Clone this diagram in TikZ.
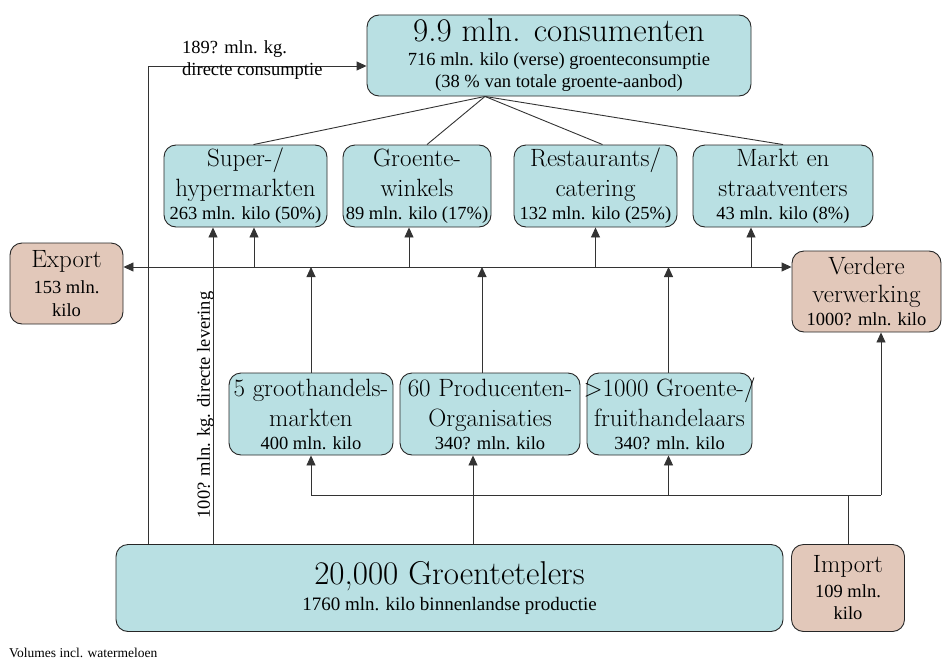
\documentclass[tikz,border=0pt]{standalone}
\usepackage{fontspec}
\setmainfont{Liberation Serif}
\newfontfamily\titlefont{Latin Modern Roman}
\usetikzlibrary{arrows.meta,calc}
\definecolor{boxblue}{HTML}{B9E0E3}
\definecolor{boxtan}{HTML}{E2C8BA}
\newcommand\fsT{\titlefont\fontsize{25}{30}\selectfont}
\newcommand\fsS{\rmfamily\fontsize{18.5}{23}\selectfont}
\newcommand\fsB{\titlefont\fontsize{33}{36}\selectfont}
\begin{document}
\begin{tikzpicture}[x=1pt,y=-1pt,
  boxbase/.style={draw=black!85, line width=0.9pt, rounded corners=12pt, align=center, inner sep=0pt},
  bluebox/.style={boxbase, fill=boxblue},
  tanbox/.style={boxbase, fill=boxtan},
  conn/.style={draw=black!80, line width=0.9pt},
  arr/.style={conn, -{Triangle[length=10pt,width=9pt]}},
  dbl/.style={conn, {Triangle[length=10pt,width=9pt]}-{Triangle[length=10pt,width=9pt]}},
  lab/.style={inner sep=0pt, font=\fontsize{18.5}{22}\selectfont}
]
\useasboundingbox (0,0) rectangle (944,661);

% top consumer box
\node[bluebox, minimum width=384pt, minimum height=81pt, font=\fontsize{18.5}{22}\selectfont] (cons) at (559,55.5)
  {{\fsB 9.9 mln. consumenten}\\[2pt]716 mln. kilo (verse) groenteconsumptie\\(38 \% van totale groente-aanbod)};

% retail row
\node[bluebox, minimum width=163pt, minimum height=82pt, font=\fsT] (super) at (245.5,186)
  {Super-/\\hypermarkten\\[-7pt]{\fsS 263 mln. kilo (50\%)}};
\node[bluebox, minimum width=148pt, minimum height=82pt, font=\fsT] (winkel) at (417,186)
  {Groente-\\winkels\\[-7pt]{\fsS 89 mln. kilo (17\%)}};
\node[bluebox, minimum width=163pt, minimum height=82pt, font=\fsT] (rest) at (595.5,186)
  {Restaurants/\\catering\\[-7pt]{\fsS 132 mln. kilo (25\%)}};
\node[bluebox, minimum width=180pt, minimum height=82pt, font=\fsT] (markt) at (783,186)
  {Markt en\\straatventers\\[-7pt]{\fsS 43 mln. kilo (8\%)}};

% side boxes
\node[tanbox, minimum width=113pt, minimum height=81pt, font=\fsS] (export) at (66.5,283.5)
  {{\fsT Export}\\[3pt]153 mln.\\kilo};
\node[tanbox, minimum width=149pt, minimum height=81pt, font=\titlefont\fontsize{25}{28}\selectfont] (verder) at (866.5,291.5)
  {Verdere\\verwerking\\[-5pt]{\fsS 1000? mln. kilo}};

% middle row
\node[bluebox, minimum width=164pt, minimum height=82pt, font=\fsT] (gh) at (311,414)
  {5 groothandels-\\markten\\[-7pt]{\fsS 400 mln. kilo}};
\node[bluebox, minimum width=180pt, minimum height=82pt, font=\fsT] (po) at (490,414)
  {60 Producenten-\\Organisaties\\[-7pt]{\fsS 340? mln. kilo}};
\node[bluebox, minimum width=165pt, minimum height=82pt, font=\fsT] (fh) at (669.5,414)
  {\makebox[0pt]{>1000 Groente-/}\\fruithandelaars\\[-7pt]{\fsS 340? mln. kilo}};

% bottom
\node[bluebox, minimum width=667pt, minimum height=87pt, font=\fontsize{19}{24}\selectfont] (telers) at (449.5,588)
  {{\fsB 20,000 Groentetelers}\\[2pt]1760 mln. kilo binnenlandse productie};
\node[tanbox, minimum width=113pt, minimum height=87pt, font=\fontsize{18.5}{22}\selectfont] (import) at (848,588)
  {{\fsT Import}\\[3pt]109 mln.\\kilo};

% helper coordinates
\coordinate (hl) at (0,267);
\coordinate (bl) at (0,495);
\coordinate (dc) at (148,66);
\coordinate (dl) at (213,0);
\coordinate (ap) at (485,0);
\coordinate (b473) at (473,0);
\coordinate (b881) at (881,0);
\coordinate (m482) at (482,0);

% consumer fan-out
\draw[conn] (cons.south -| ap) -- ($(super.north)+(8,0)$);
\draw[conn] (cons.south -| ap) -- ($(winkel.north)+(10,0)$);
\draw[conn] (cons.south -| ap) -- ($(rest.north)+(7,0)$);
\draw[conn] (cons.south -| ap) -- (markt.north);

% main distribution line
\draw[dbl] (export.east |- hl) -- (verder.west |- hl);
\draw[arr] ($(super.south |- hl)+(8.5,0)$) -- ($(super.south)+(8.5,0)$);
\draw[arr] ($(winkel.south |- hl)+(-8,0)$) -- ($(winkel.south)+(-8,0)$);
\draw[arr] (rest.south |- hl) -- (rest.south);
\draw[arr] ($(markt.south |- hl)+(-32,0)$) -- ($(markt.south)+(-32,0)$);

% middle row up to line
\draw[arr] (gh.north) -- (gh.north |- hl);
\draw[arr] (po.north -| m482) -- (m482 |- hl);
\draw[arr] ($(fh.north)+(-1,0)$) -- ($(fh.north |- hl)+(-1,0)$);

% direct flows from growers
\draw[arr] (telers.north -| dc) -- (dc) -- (cons.west |- dc);
\draw[arr] (telers.north -| dl) -- (super.south -| dl);

% bottom distribution
\draw[arr] (telers.north -| b473) -- (po.south -| b473);
\draw[conn] (gh.south |- bl) -- (b881 |- bl);
\draw[arr] (gh.south |- bl) -- (gh.south);
\draw[arr] ($(fh.south |- bl)+(-1,0)$) -- ($(fh.south)+(-1,0)$);
\draw[arr] (b881 |- bl) -- (verder.south -| b881);
\draw[conn] (import.north) -- (import.north |- bl);

% labels
\node[lab, anchor=north west, align=left] (l189) at (182,40.5) {189? mln. kg.\\directe consumptie};
\node[lab, rotate=90] (l100) at (205.5,405) {100? mln. kg. directe levering};
\node[inner sep=0pt, anchor=base west, font=\fontsize{13.5}{16}\selectfont] (vol) at (9,657) {Volumes incl. watermeloen};
\end{tikzpicture}
\end{document}
